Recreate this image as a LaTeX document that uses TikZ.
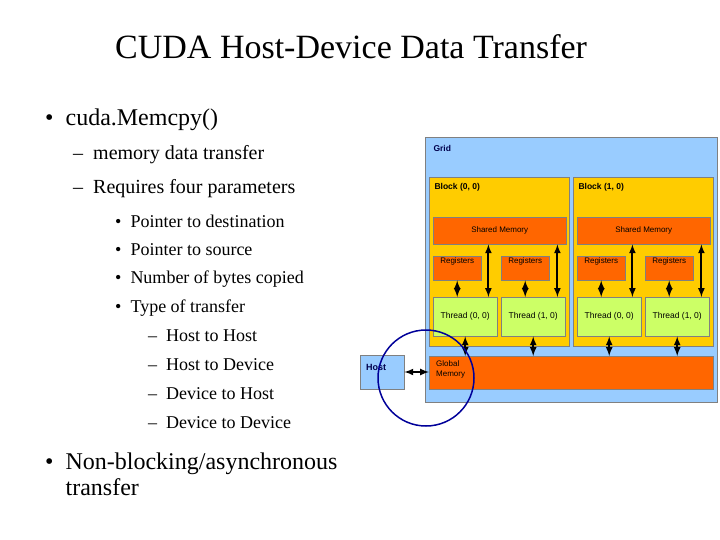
\documentclass[tikz,border=0pt]{standalone}
\usepackage{fontspec}
\setmainfont{Liberation Serif}
\newfontfamily\diag{Liberation Sans}
\usetikzlibrary{positioning}
\definecolor{gridblue}{RGB}{153,204,255}
\definecolor{blockyel}{RGB}{255,204,0}
\definecolor{memorange}{RGB}{255,102,0}
\definecolor{thrgreen}{RGB}{204,255,102}
\tikzset{
box/.style={draw=gray, anchor=north west, inner sep=0pt},
mem/.style={box, fill=memorange, font=\diag\fontsize{8}{9}\selectfont},
thr/.style={box, fill=thrgreen, minimum width=64pt, minimum height=39pt, font=\diag\fontsize{8.5}{9}\selectfont},
reg/.style={box, fill=memorange, minimum width=48pt, minimum height=24pt, font=\diag\fontsize{8}{9}\selectfont, align=center},
link/.style={<->, >=latex, line width=2pt},
txt/.style={anchor=west, inner sep=0pt},
}
\begin{document}
\begin{tikzpicture}[x=1pt, y=-1pt]
\useasboundingbox (0,0) rectangle (720,540);
% title and bullets
\node[txt, font=\fontsize{34}{36}\selectfont] (title) at (115,47) {CUDA Host-Device Data Transfer};
\node[txt, font=\fontsize{24}{26}\selectfont] (b1) at (45,120) {\textbullet\ \ cuda.Memcpy()};
\node[txt, font=\fontsize{20}{22}\selectfont] (s1) at (73,155) {--\ \ memory data transfer};
\node[txt, font=\fontsize{20}{22}\selectfont] (s2) at (73,189) {--\ \ Requires four parameters};
\foreach \t [count=\i] in {Pointer to destination, Pointer to source, Number of bytes copied, Type of transfer}
  \node[txt, font=\fontsize{18}{20}\selectfont] (p\i) at (115,192+29*\i) {\textbullet\ \ \t};
\foreach \t [count=\i] in {Host to Host, Host to Device, Device to Host, Device to Device}
  \node[txt, font=\fontsize{18}{20}\selectfont] (h\i) at (148,307+29*\i) {--\ \ \t};
\node[txt, font=\fontsize{24}{26}\selectfont, align=left] (b2) at (45,474) {\textbullet\ \ Non-blocking/asynchronous\\\phantom{\textbullet\ \ }transfer};
% grid
\node[box, fill=gridblue, minimum width=292pt, minimum height=265pt] (grid) at (425,137) {};
\node[anchor=north west, font=\diag\bfseries\fontsize{8.5}{9}\selectfont, text=black!70!blue] at (430,142) {Grid};
\foreach \bx/\b in {429/0, 573/1} {
  \node[box, fill=blockyel, minimum width=140pt, minimum height=169pt] (blk\b) at (\bx,177) {};
  \node[anchor=north west, font=\diag\bfseries\fontsize{8.5}{9}\selectfont] at (\bx+2,180) {Block (\b, 0)};
  \node[mem, minimum width=133pt, minimum height=27pt] (sh\b) at (\bx+4,217) {Shared Memory};
  \node[reg] (ra\b) at (\bx+4,256) {Registers\\[7pt]\ };
  \node[reg] (rb\b) at (\bx+72,256) {Registers\\[7pt]\ };
  \node[thr] (ta\b) at (\bx+4,297) {Thread (0, 0)};
  \node[thr] (tb\b) at (\bx+72,297) {Thread (1, 0)};
  \draw[link] (ra\b.south) -- (ra\b.south |- ta\b.north);
  \draw[link] ([xshift=-9pt]ta\b.north east) -- ([xshift=-9pt]ta\b.north east |- sh\b.south);
  \draw[link] (rb\b.south) -- (rb\b.south |- tb\b.north);
  \draw[link] ([xshift=-8pt]tb\b.north east) -- ([xshift=-8pt]tb\b.north east |- sh\b.south);
}
\node[box, fill=memorange, minimum width=284pt, minimum height=33pt] (gmem) at (429,356) {};
\node[anchor=north west, font=\diag\fontsize{8}{9.5}\selectfont, align=left, inner sep=0pt] at (436,361) {Global\\Memory};
\foreach \t in {ta0, tb0, ta1, tb1}
  \draw[link] (\t.south) -- (\t.south |- gmem.north);
\node[box, fill=gridblue, minimum width=44pt, minimum height=34pt] (host) at (360,355) {};
\node[anchor=west, font=\diag\bfseries\fontsize{9}{10}\selectfont, text=black!70!blue, inner sep=0pt] at (366,367) {Host};
\draw[link] (host.east |- 0,372) -- (gmem.west |- 0,372);
\draw[blue!60!black, line width=1.5pt] (426,378) circle[radius=48];
\end{tikzpicture}
\end{document}
